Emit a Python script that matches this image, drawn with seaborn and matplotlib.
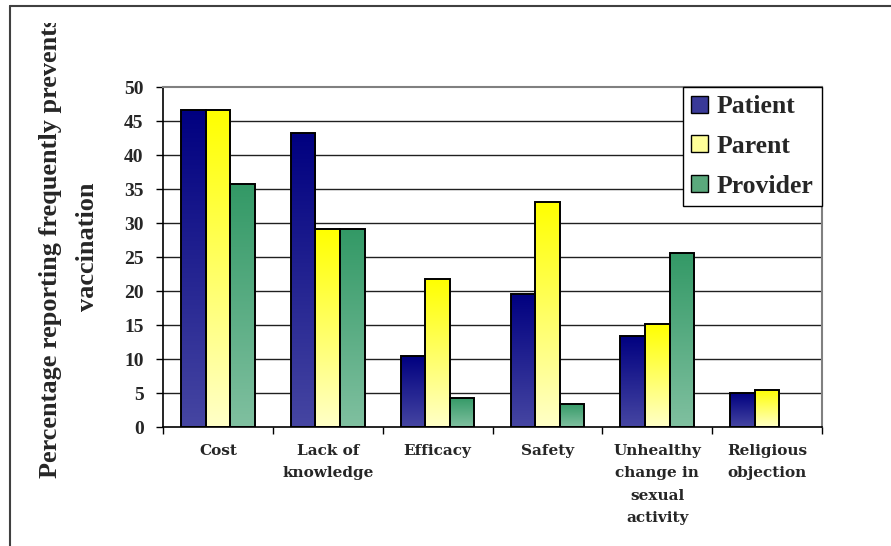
import numpy as np
import pandas as pd
import matplotlib
matplotlib.use("Agg")
import matplotlib.pyplot as plt
from matplotlib.lines import Line2D
from matplotlib.patches import Patch, Rectangle
import seaborn as sns

categories = ["Cost", "Lack of\nknowledge", "Efficacy", "Safety",
              "Unhealthy\nchange in\nsexual\nactivity", "Religious\nobjection"]
series = ["Patient", "Parent", "Provider"]
patient = [46.6, 43.2, 10.4, 19.6, 13.4, 5.0]
parent = [46.6, 29.1, 21.7, 33.1, 15.1, 5.5]
provider = [35.7, 29.1, 4.3, 3.4, 25.6, np.nan]
y_ticks = [0, 5, 10, 15, 20, 25, 30, 35, 40, 45, 50]
y_label = "Percentage reporting frequently prevents\nvaccination"

# top / bottom colours of the vertical gradient for each series
gradients = {
    "Patient": ("#000080", "#4646a2"),
    "Parent": ("#ffff00", "#ffffc8"),
    "Provider": ("#339966", "#80c0a0"),
}
swatch = {"Patient": "#3a3a98", "Parent": "#ffff99", "Provider": "#5aa87c"}

df = pd.DataFrame({
    "category": np.repeat(categories, 3),
    "series": series * len(categories),
    "value": np.ravel(np.column_stack([patient, parent, provider])),
})

sns.set_theme(style="white")
plt.rcParams["font.family"] = ["Liberation Serif", "DejaVu Serif"]
plt.rcParams["font.weight"] = "bold"

fig = plt.figure(figsize=(8.91, 5.46), dpi=100)
ax = fig.add_axes([163 / 891, 1 - 427 / 546, (822 - 163) / 891, (427 - 87) / 546])

sns.barplot(data=df, x="category", y="value", hue="series",
            order=categories, hue_order=series, palette=swatch,
            width=0.67, gap=0, dodge=True, legend=False, ax=ax,
            edgecolor="black", linewidth=1.4, saturation=1, errorbar=None)

# replace flat fills with top-to-bottom gradients clipped to each bar
for container, name in zip(ax.containers, series):
    top, bottom = (np.array(matplotlib.colors.to_rgb(c)) for c in gradients[name])
    t = np.linspace(0, 1, 256)[:, None]
    grad = (top * (1 - t) + bottom * t)[:, None, :]
    for bar in container:
        h = bar.get_height()
        if not np.isfinite(h) or h <= 0:
            continue
        x0, w = bar.get_x(), bar.get_width()
        im = ax.imshow(grad, extent=(x0, x0 + w, 0, h), origin="upper",
                       aspect="auto", zorder=bar.get_zorder() - 0.1,
                       interpolation="bilinear")
        im.set_clip_path(bar)
        bar.set_facecolor("none")

ax.set_xlim(-0.5, len(categories) - 0.5)
ax.set_ylim(0, 50)
ax.set_yticks(y_ticks)
ax.set_yticklabels([str(v) for v in y_ticks], fontsize=14, fontweight="bold")
for v in y_ticks[1:-1]:
    ax.axhline(v, color="#202020", lw=1.0, zorder=0.5)

ax.set_xticks(range(len(categories)))
ax.set_xticklabels(categories, fontsize=11, fontweight="bold",
                   family="DejaVu Serif", linespacing=1.77)
ax.set_xticks(np.arange(-0.5, len(categories)), minor=True)
ax.tick_params(axis="x", which="major", length=0, pad=12)
ax.tick_params(axis="x", which="minor", length=5, width=1, color="black",
               direction="out", bottom=True)
ax.tick_params(axis="y", length=5, width=1, color="black", direction="out",
               left=True, pad=9)
ax.set_xlabel("")
ax.set_ylabel("")

for side in ("left", "bottom"):
    ax.spines[side].set_color("black")
    ax.spines[side].set_linewidth(1.2)
for side in ("top", "right"):
    ax.spines[side].set_color("#808080")
    ax.spines[side].set_linewidth(1.5)

handles = [Patch(facecolor=swatch[s], edgecolor="black", linewidth=1.0, label=s)
           for s in series]
leg = ax.legend(handles=handles, loc="upper right", bbox_to_anchor=(1, 1),
                borderaxespad=0, frameon=True, fancybox=False, framealpha=1,
                prop={"family": "Liberation Serif", "weight": "bold", "size": 18.5},
                handlelength=0.65, handleheight=0.65, handletextpad=0.35,
                labelspacing=0.65, borderpad=0.32)
leg.get_frame().set_edgecolor("black")
leg.get_frame().set_linewidth(1.0)
leg.set_zorder(5)

ylab = fig.text(69 / 891, 1 - 247 / 546, y_label, rotation=90, ha="center",
                va="center", multialignment="center", fontsize=18.9,
                fontweight="bold", linespacing=1.78)
# the label is cut off just below the top frame
ylab.set_clip_path(Rectangle((0, 0), 1, 1 - 23 / 546, transform=fig.transFigure))

# outer frame: top and left edges only
fig.add_artist(Line2D([10 / 891, 1], [1 - 6 / 546, 1 - 6 / 546],
                      transform=fig.transFigure, color="#404040", lw=1.5))
fig.add_artist(Line2D([10 / 891, 10 / 891], [0, 1 - 6 / 546],
                      transform=fig.transFigure, color="#404040", lw=1.5))

fig.savefig("out.png", dpi=100)
